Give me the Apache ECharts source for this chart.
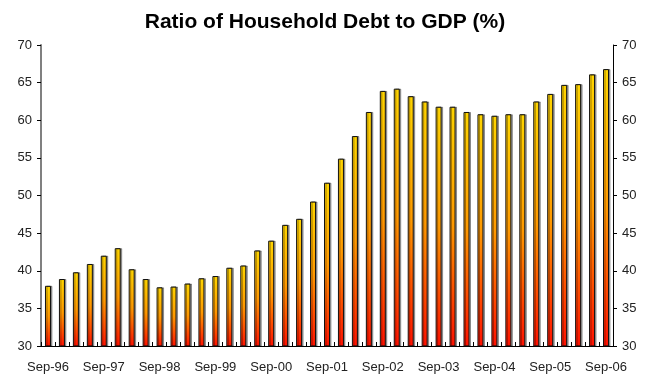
<!DOCTYPE html>
<html>
<head>
<meta charset="utf-8">
<script src="https://cdn.jsdelivr.net/npm/echarts@6/dist/echarts.min.js"></script>
<style>html,body{margin:0;padding:0;background:#fff;}#c{width:650px;height:377px;}</style>
</head>
<body>
<div id="c"></div>
<script>
const categories = (function(){
  const out = [];
  const months = ['Sep','Dec','Mar','Jun'];
  let y = 96;
  for (let i = 0; i < 41; i++) {
    const m = months[i % 4];
    if (m === 'Mar') y = (y + 1) % 100;
    out.push(m + '-' + String(y).padStart(2, '0'));
  }
  return out;
})();
const debtRatio = [38.0, 38.9, 39.8, 40.9, 42.0, 43.0, 40.2, 38.9, 37.8, 37.9,
  38.3, 39.0, 39.3, 40.4, 40.7, 42.7, 44.0, 46.1, 46.9, 49.2,
  51.7, 54.9, 57.9, 61.1, 63.9, 64.2, 63.2, 62.5, 61.8, 61.8,
  61.1, 60.8, 60.6, 60.8, 60.8, 62.5, 63.5, 64.7, 64.8, 66.1, 66.8];
const yMin = 30, yMax = 70, yStep = 5;

const chart = echarts.init(document.getElementById('c'));
const axisLabelStyle = {color: '#222', fontSize: 13, fontFamily: 'Liberation Sans, Arial, sans-serif'};
chart.setOption({
  animation: false,
  title: {
    text: 'Ratio of Household Debt to GDP (%)',
    left: 'center', top: 7,
    textStyle: {fontFamily: 'Liberation Sans, Arial, sans-serif', fontWeight: 'bold', fontSize: 21, color: '#000'}
  },
  grid: {left: 41, right: 37, top: 45, bottom: 31, containLabel: false},
  xAxis: {
    type: 'category', data: categories, boundaryGap: true,
    axisLine: {lineStyle: {color: '#000', width: 1}},
    axisTick: {show: true, interval: 0, inside: true, length: 4, lineStyle: {color: '#000'}},
    axisLabel: Object.assign({interval: 3, margin: 15}, axisLabelStyle),
    splitLine: {show: false}
  },
  yAxis: [
    {type: 'value', min: yMin, max: yMax, interval: yStep, position: 'left',
     axisLine: {show: true, lineStyle: {color: '#808080', width: 2}},
     axisTick: {show: true, length: 4, lineStyle: {color: '#000'}},
     axisLabel: Object.assign({margin: 9}, axisLabelStyle),
     splitLine: {show: false}},
    {type: 'value', min: yMin, max: yMax, interval: yStep, position: 'right',
     axisLine: {show: true, lineStyle: {color: '#000', width: 1}},
     axisTick: {show: true, length: 4, lineStyle: {color: '#000'}},
     axisLabel: Object.assign({margin: 9}, axisLabelStyle),
     splitLine: {show: false}}
  ],
  series: [{
    type: 'bar', data: debtRatio, barWidth: 6, yAxisIndex: 0,
    itemStyle: {
      color: new echarts.graphic.LinearGradient(0, 0, 0, 1, [
        {offset: 0, color: '#FFD500'},
        {offset: 0.5, color: '#FF9900'},
        {offset: 1, color: '#FF1000'}
      ]),
      borderColor: '#111', borderWidth: 1,
      shadowColor: 'rgba(0,0,0,0.35)', shadowOffsetX: 1.5, shadowOffsetY: 0, shadowBlur: 0
    }
  }]
});
</script>
</body>
</html>
